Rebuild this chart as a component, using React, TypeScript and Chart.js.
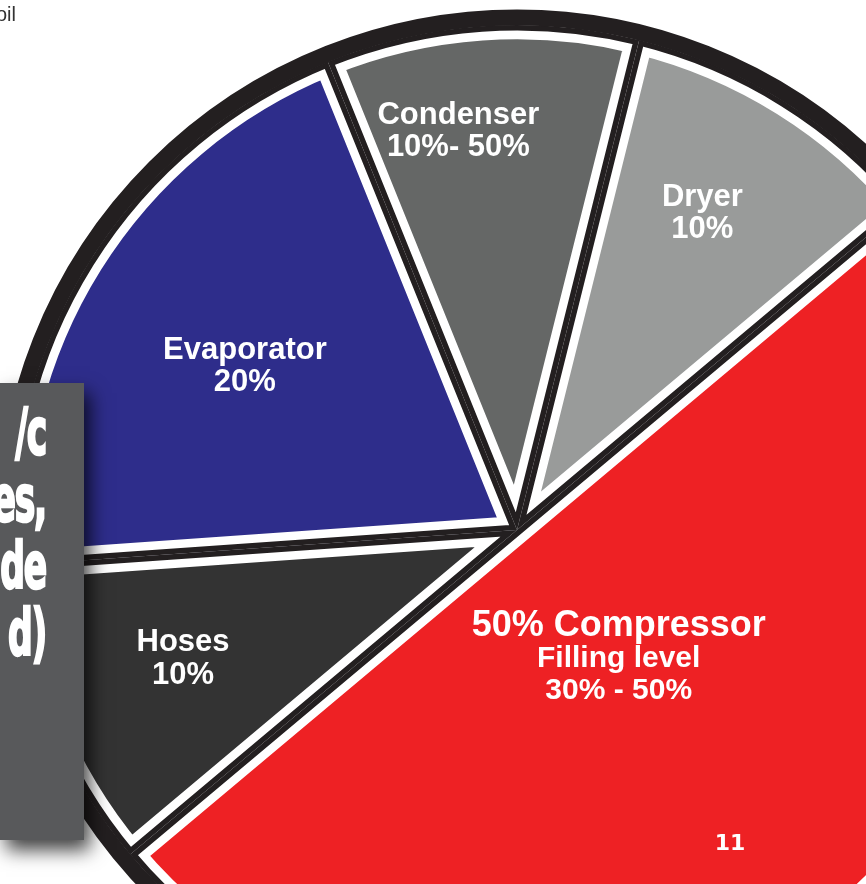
import React, { useEffect, useRef } from "react";
import { Chart, registerables } from "chart.js";

Chart.register(...registerables);

// ---- data ----
const categories = ["Compressor", "Hoses", "Evaporator", "Condenser", "Dryer"];
const shares = [50, 10, 20, 10, 10];
const sliceColors = ["#ee2124", "#333333", "#2e2d8b", "#656766", "#999b9a"];
const labelLines = [
  ["50% Compressor", "Filling level", "30% - 50%"],
  ["Hoses", "10%"],
  ["Evaporator", "20%"],
  ["Condenser", "10%- 50%"],
  ["Dryer", "10%"],
];
const boxLines = ["/c", "es,", "de", "d)"];
const cornerText = "oil";
const pageNumber = "11";

// ---- layout (not data) ----
const LABEL_LAYOUT = [
  { r: 0.32, nudge: 1.0, sizes: [36, 30, 30], gap: 32.5 },
  { r: 0.707, nudge: 1.3, sizes: [31, 31], gap: 32.5 },
  { r: 0.632, nudge: -0.5, sizes: [31, 31], gap: 32 },
  { r: 0.804, nudge: -4.3, sizes: [31, 31], gap: 32 },
  { r: 0.732, nudge: -1.9, sizes: [31, 31], gap: 32 },
];
const TEXT_DY = 3;
const EDGE_BLACK = "#231f20";

const piePlugin = {
  id: "pieDecor",
  afterDatasetsDraw(chart: any) {
    const ctx = chart.ctx as CanvasRenderingContext2D;
    const meta = chart.getDatasetMeta(0);
    let cx = 0, cy = 0, R = 0;
    meta.data.forEach((arc: any) => {
      const { x, y, startAngle, endAngle, outerRadius } = arc;
      cx = x; cy = y; R = outerRadius;
      ctx.save();
      ctx.beginPath();
      ctx.moveTo(x, y);
      ctx.arc(x, y, outerRadius, startAngle, endAngle);
      ctx.closePath();
      ctx.clip();
      ctx.lineWidth = 11;
      ctx.lineJoin = "miter";
      ctx.strokeStyle = EDGE_BLACK;
      ctx.stroke();
      ctx.restore();
    });
    // outer black ring
    ctx.save();
    ctx.beginPath();
    ctx.arc(cx, cy, R + 7.5, 0, Math.PI * 2);
    ctx.lineWidth = 16;
    ctx.strokeStyle = EDGE_BLACK;
    ctx.stroke();
    ctx.restore();

    // labels
    meta.data.forEach((arc: any, i: number) => {
      const lay = LABEL_LAYOUT[i];
      const a = (arc.startAngle + arc.endAngle) / 2 + (lay.nudge * Math.PI) / 180;
      const lx = arc.x + Math.cos(a) * lay.r * arc.outerRadius;
      const ly = arc.y + Math.sin(a) * lay.r * arc.outerRadius + TEXT_DY;
      const lines = labelLines[i];
      const n = lines.length;
      ctx.save();
      ctx.fillStyle = "#ffffff";
      ctx.textAlign = "center";
      ctx.textBaseline = "middle";
      lines.forEach((t, j) => {
        ctx.font = `700 ${lay.sizes[j]}px "Liberation Sans", Arial, sans-serif`;
        const yy = ly + (j - (n - 1) / 2) * lay.gap;
        ctx.fillText(t, lx, yy);
      });
      ctx.restore();
    });
  },
};

export default function App() {
  const ref = useRef<HTMLCanvasElement | null>(null);

  useEffect(() => {
    if (!ref.current) return;
    const chart = new Chart(ref.current, {
      type: "pie",
      data: {
        labels: categories,
        datasets: [
          {
            data: shares,
            backgroundColor: sliceColors,
            borderColor: "#ffffff",
            borderWidth: 14,
            borderAlign: "inner",
            hoverOffset: 0,
            hoverBorderWidth: 14,
          } as any,
        ],
      },
      options: {
        responsive: false,
        animation: false,
        rotation: 50,
        events: [],
        layout: { padding: 25 },
        plugins: { legend: { display: false }, tooltip: { enabled: false } },
      } as any,
      plugins: [piePlugin],
    });
    return () => chart.destroy();
  }, []);

  return (
    <div
      style={{
        position: "fixed",
        left: 0,
        top: 0,
        width: 866,
        height: 884,
        overflow: "hidden",
        background: "#ffffff",
      }}
    >
      <canvas
        ref={ref}
        width={1060}
        height={1060}
        style={{ position: "absolute", left: -13, top: 0, width: 1060, height: 1060 }}
      />
      <div
        style={{
          position: "absolute",
          left: -4,
          top: 4,
          fontFamily: '"Liberation Sans", Arial, sans-serif',
          fontSize: 20,
          lineHeight: "21px",
          color: "#333333",
          whiteSpace: "nowrap",
        }}
      >
        {cornerText}
      </div>
      <div
        style={{
          position: "absolute",
          left: 0,
          top: 383,
          width: 84,
          height: 457,
          background: "#58595b",
          boxShadow: "6px 10px 18px rgba(0,0,0,0.75)",
        }}
      />
      <div
        style={{
          position: "absolute",
          left: -300,
          width: 346,
          top: 399,
          textAlign: "right",
          fontFamily: '"DejaVu Sans", sans-serif',
          fontStretch: "condensed",
          fontWeight: 700,
          fontSize: 64,
          lineHeight: "67px",
          letterSpacing: "-2px",
          color: "#ffffff",
          WebkitTextStroke: "2.5px #ffffff",
          transform: "scaleX(0.6)",
          transformOrigin: "right center",
          whiteSpace: "nowrap",
        }}
      >
        {boxLines.map((t, i) => (
          <div key={i}>{t}</div>
        ))}
      </div>
      <div
        style={{
          position: "absolute",
          left: 700,
          width: 60,
          top: 830,
          textAlign: "center",
          fontFamily: '"DejaVu Sans", sans-serif',
          fontWeight: 700,
          fontSize: 22,
          lineHeight: "25px",
          color: "#ffffff",
        }}
      >
        {pageNumber}
      </div>
    </div>
  );
}
